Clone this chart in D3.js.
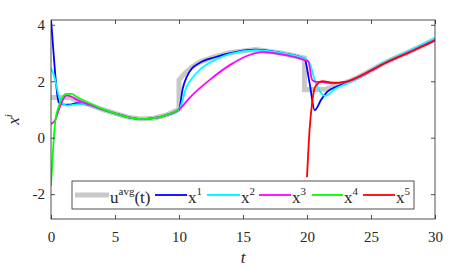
<!DOCTYPE html>
<html>
<head>
<meta charset="utf-8">
<script src="https://cdn.jsdelivr.net/npm/d3@7/dist/d3.min.js"></script>
</head>
<body style="margin:0">
<div class="container"></div>
<script>
// values
let xTicks = [0, 5, 10, 15, 20, 25, 30]
let yTicks = [-2, 0, 2, 4]

let tAvg = [0, 1.5, 2, 3, 4, 5, 6, 7, 8, 9, 10, 10, 10.5, 11, 11.6, 12.8, 14, 16, 18, 19.8, 19.8, 21.5, 22.5, 23, 24, 25, 26, 27, 28, 29, 30]
let uAvg = [1.42, 1.42, 1.32, 1.17, 1.0, 0.86, 0.73, 0.66, 0.69, 0.8, 1.0, 2.05, 2.3, 2.5, 2.68, 2.87, 3.02, 3.12, 3.0, 2.82, 1.7, 1.72, 1.88, 1.95, 2.14, 2.39, 2.64, 2.85, 3.05, 3.26, 3.5]

let t1 = [0, 0.2, 0.4, 0.6, 1, 1.5, 2, 3, 4, 5, 6, 7, 8, 9, 10, 10.3, 10.6, 11, 11.6, 12.8, 14, 16, 18, 19.8, 20.2, 20.6, 21.1, 21.6, 22.3, 23, 24, 25, 26, 27, 28, 29, 30]
let x1 = [4.2, 3.0, 1.9, 1.25, 1.17, 1.17, 1.22, 1.16, 1.0, 0.86, 0.73, 0.66, 0.69, 0.8, 1.0, 1.76, 2.15, 2.45, 2.65, 2.85, 3.0, 3.12, 3.0, 2.8, 1.94, 0.98, 1.34, 1.63, 1.81, 1.93, 2.13, 2.38, 2.63, 2.85, 3.05, 3.27, 3.48]

let t2 = [0, 0.3, 0.6, 0.9, 1.3, 1.8, 2.5, 3, 4, 5, 6, 7, 8, 9, 10, 10.6, 11, 11.6, 13, 14, 16, 18, 19.8, 20.2, 20.6, 21.1, 21.4, 22.3, 23, 24, 25, 26, 27, 28, 29, 30]
let x2 = [2.47, 2.1, 1.5, 1.2, 1.14, 1.17, 1.2, 1.16, 1.0, 0.86, 0.73, 0.66, 0.69, 0.8, 1.0, 1.81, 2.1, 2.4, 2.79, 2.97, 3.1, 3.0, 2.8, 2.65, 2.05, 1.58, 1.48, 1.76, 1.9, 2.12, 2.4, 2.66, 2.88, 3.08, 3.3, 3.52]

let t3 = [0, 0.3, 0.7, 1.2, 1.6, 2, 3, 4, 5, 6, 7, 8, 9, 10, 10.9, 12.4, 14, 15.5, 16.5, 18, 19.8, 20.1, 20.4, 20.7, 21, 22, 23, 24, 25, 26, 27, 28, 29, 30]
let x3 = [0.49, 0.6, 1.1, 1.5, 1.45, 1.35, 1.17, 1.0, 0.86, 0.73, 0.66, 0.69, 0.8, 1.0, 1.45, 2.05, 2.58, 2.93, 3.03, 2.95, 2.75, 2.7, 2.05, 1.98, 1.98, 1.93, 1.97, 2.15, 2.39, 2.63, 2.84, 3.04, 3.25, 3.46]

let t4 = [0, 0.15, 0.3, 0.6, 1.2, 1.6, 2, 3, 4, 5, 6, 7, 8, 9, 10]
let x4 = [-1.7, -0.5, 0.45, 1.1, 1.55, 1.55, 1.45, 1.22, 1.02, 0.86, 0.73, 0.66, 0.69, 0.8, 1.0]

let t5 = [20, 20.2, 20.4, 20.6, 20.9, 21.2, 22, 23, 24, 25, 26, 27, 28, 29, 30]
let x5 = [-1.4, 0.27, 1.23, 1.76, 1.94, 2.0, 1.95, 1.98, 2.15, 2.38, 2.62, 2.83, 3.02, 3.23, 3.44]

let names = ['1', '2', '3', '4', '5']
let colors = ['#0000ff', '#00ffff', '#ff00ff', '#00ff00', '#ff0000']
let series = [[t1, x1], [t2, x2], [t3, x3], [t4, x4], [t5, x5]]

const W = 468, H = 267
const mLeft = 51, mRight = 435, mTop = 20, mBottom = 219
const FONT = 'Times New Roman, Liberation Serif, serif'

let svg = d3.select('.container')
	.append('svg')
	.attr('width', W)
	.attr('height', H)
	.attr('font-family', FONT)

let x = d3.scaleLinear().domain([0, 30]).range([mLeft, mRight])
let y = d3.scaleLinear().domain([-2.88, 4.17]).range([mBottom, mTop])

let plot = svg.append('svg')
	.attr('x', mLeft).attr('y', mTop)
	.attr('width', mRight - mLeft).attr('height', mBottom - mTop)
	.attr('viewBox', `${mLeft} ${mTop} ${mRight - mLeft} ${mBottom - mTop}`)

let toPts = (ts, vs) => ts.map((t, i) => [t, vs[i]])

let lineLin = d3.line().x(d => x(d[0])).y(d => y(d[1]))
let lineSmooth = d3.line().x(d => x(d[0])).y(d => y(d[1])).curve(d3.curveMonotoneX)

plot.append('path')
	.attr('d', lineLin(toPts(tAvg, uAvg)))
	.attr('fill', 'none')
	.attr('stroke', '#c8c8c8')
	.attr('stroke-width', 5)

series.forEach((s, i) => {
	plot.append('path')
		.attr('d', lineSmooth(toPts(s[0], s[1])))
		.attr('fill', 'none')
		.attr('stroke', colors[i])
		.attr('stroke-width', 1.8)
})

// axes, MATLAB style box with inward ticks
let axCol = '#262626'
let fmt = d => String(d)
let gx = svg.append('g').attr('transform', `translate(0,${mBottom})`)
	.call(d3.axisBottom(x).tickValues(xTicks).tickSize(-4).tickPadding(12).tickFormat(fmt))
let gxt = svg.append('g').attr('transform', `translate(0,${mTop})`)
	.call(d3.axisTop(x).tickValues(xTicks).tickSize(-4).tickFormat(''))
let gy = svg.append('g').attr('transform', `translate(${mLeft},0)`)
	.call(d3.axisLeft(y).tickValues(yTicks).tickSize(-4).tickPadding(6).tickFormat(fmt))
let gyr = svg.append('g').attr('transform', `translate(${mRight},0)`)
	.call(d3.axisRight(y).tickValues(yTicks).tickSize(-4).tickFormat(''))

;[gx, gxt, gy, gyr].forEach(g => {
	g.attr('font-family', null).attr('font-size', null)
	g.select('.domain').remove()
	g.selectAll('line').attr('stroke', axCol).attr('stroke-width', 0.8)
	g.selectAll('text').attr('fill', axCol).attr('font-family', FONT).attr('font-size', 15)
})

svg.append('rect')
	.attr('x', mLeft).attr('y', mTop)
	.attr('width', mRight - mLeft).attr('height', mBottom - mTop)
	.attr('fill', 'none')
	.attr('stroke', axCol)
	.attr('stroke-width', 0.8)

svg.append('text')
	.attr('x', x(15)).attr('y', 263)
	.attr('text-anchor', 'middle')
	.attr('fill', axCol)
	.attr('font-family', FONT).attr('font-size', 17).attr('font-style', 'italic')
	.text('t')

let yl = svg.append('text')
	.attr('transform', `translate(19,${(mTop + mBottom) / 2}) rotate(-90)`)
	.attr('text-anchor', 'middle')
	.attr('fill', axCol)
	.attr('font-family', FONT).attr('font-size', 17).attr('font-style', 'italic')
yl.append('tspan').text('x')
yl.append('tspan').attr('dy', -7).attr('font-size', 11).text('i')

// legend
let lg = svg.append('g')
lg.append('rect')
	.attr('x', 72).attr('y', 181).attr('width', 342).attr('height', 28)
	.attr('fill', '#fff').attr('stroke', axCol).attr('stroke-width', 0.8)

let legItems = [
	{ x0: 75, x1: 109, col: '#c8c8c8', w: 5, base: 'u', sup: 'avg', tail: '(t)' },
	{ x0: 155, x1: 187, col: colors[0], w: 1.8, base: 'x', sup: names[0], tail: '' },
	{ x0: 207, x1: 240, col: colors[1], w: 1.8, base: 'x', sup: names[1], tail: '' },
	{ x0: 259, x1: 291, col: colors[2], w: 1.8, base: 'x', sup: names[2], tail: '' },
	{ x0: 312, x1: 343, col: colors[3], w: 1.8, base: 'x', sup: names[3], tail: '' },
	{ x0: 363, x1: 395, col: colors[4], w: 1.8, base: 'x', sup: names[4], tail: '' }
]

legItems.forEach(d => {
	lg.append('line')
		.attr('x1', d.x0).attr('x2', d.x1).attr('y1', 195).attr('y2', 195)
		.attr('stroke', d.col).attr('stroke-width', d.w)
	let t = lg.append('text').attr('x', d.x1 + 1).attr('y', 203).attr('fill', axCol)
		.attr('font-family', FONT).attr('font-size', 17)
	t.append('tspan').text(d.base)
	t.append('tspan').attr('dy', -8).attr('font-size', 11).text(d.sup)
	if (d.tail) t.append('tspan').attr('dy', 8).attr('font-size', 17).text(d.tail)
})
</script>
</body>
</html>
